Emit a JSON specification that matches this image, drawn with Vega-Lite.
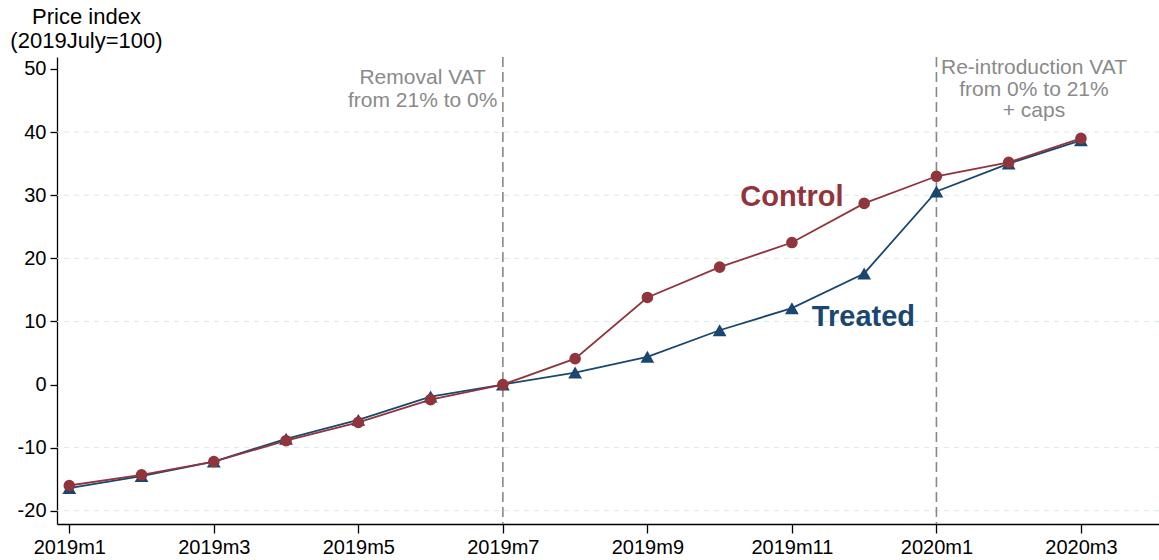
{
  "$schema": "https://vega.github.io/schema/vega-lite/v6.json",
  "autosize": "none",
  "width": 1102,
  "height": 467,
  "padding": {"left": 57, "top": 57, "right": 0, "bottom": 36},
  "background": "white",
  "config": {
    "view": {"stroke": null},
    "font": "Liberation Sans",
    "axis": {"labelFont": "Liberation Sans", "titleFont": "Liberation Sans"}
  },
  "datasets": {
    "series": [
      {"t": 0, "month": "2019m1", "group": "Treated", "value": -16.4},
      {"t": 1, "month": "2019m2", "group": "Treated", "value": -14.5},
      {"t": 2, "month": "2019m3", "group": "Treated", "value": -12.2},
      {"t": 3, "month": "2019m4", "group": "Treated", "value": -8.6},
      {"t": 4, "month": "2019m5", "group": "Treated", "value": -5.6},
      {"t": 5, "month": "2019m6", "group": "Treated", "value": -1.9},
      {"t": 6, "month": "2019m7", "group": "Treated", "value": 0},
      {"t": 7, "month": "2019m8", "group": "Treated", "value": 1.9},
      {"t": 8, "month": "2019m9", "group": "Treated", "value": 4.4},
      {"t": 9, "month": "2019m10", "group": "Treated", "value": 8.6},
      {"t": 10, "month": "2019m11", "group": "Treated", "value": 12.1},
      {"t": 11, "month": "2019m12", "group": "Treated", "value": 17.6},
      {"t": 12, "month": "2020m1", "group": "Treated", "value": 30.6},
      {"t": 13, "month": "2020m2", "group": "Treated", "value": 35.0},
      {"t": 14, "month": "2020m3", "group": "Treated", "value": 38.7},
      {"t": 0, "month": "2019m1", "group": "Control", "value": -16.0},
      {"t": 1, "month": "2019m2", "group": "Control", "value": -14.3},
      {"t": 2, "month": "2019m3", "group": "Control", "value": -12.2},
      {"t": 3, "month": "2019m4", "group": "Control", "value": -8.9},
      {"t": 4, "month": "2019m5", "group": "Control", "value": -6.0},
      {"t": 5, "month": "2019m6", "group": "Control", "value": -2.4},
      {"t": 6, "month": "2019m7", "group": "Control", "value": 0},
      {"t": 7, "month": "2019m8", "group": "Control", "value": 4.1},
      {"t": 8, "month": "2019m9", "group": "Control", "value": 13.8},
      {"t": 9, "month": "2019m10", "group": "Control", "value": 18.6},
      {"t": 10, "month": "2019m11", "group": "Control", "value": 22.5},
      {"t": 11, "month": "2019m12", "group": "Control", "value": 28.7},
      {"t": 12, "month": "2020m1", "group": "Control", "value": 33.0},
      {"t": 13, "month": "2020m2", "group": "Control", "value": 35.2},
      {"t": 14, "month": "2020m3", "group": "Control", "value": 39.0}
    ],
    "grid": [{"v": -20}, {"v": -10}, {"v": 10}, {"v": 20}, {"v": 30}, {"v": 40}],
    "events": [{"t": 6}, {"t": 12}],
    "notes": [
      {"t": 4.89, "y": 48.5, "label": "Removal VAT"},
      {"t": 4.89, "y": 45.0, "label": "from 21% to 0%"},
      {"t": 13.35, "y": 50.1, "label": "Re-introduction VAT"},
      {"t": 13.35, "y": 46.7, "label": "from 0% to 21%"},
      {"t": 13.35, "y": 43.4, "label": "+ caps"}
    ],
    "tags": [
      {"t": 10.0, "y": 29.7, "group": "Control"},
      {"t": 10.99, "y": 10.7, "group": "Treated"}
    ]
  },
  "layer": [
    {
      "data": {"name": "grid"},
      "mark": {"type": "rule", "color": "#d9e8ec", "strokeWidth": 1, "strokeDash": [5, 5]},
      "encoding": {
        "y": {"field": "v", "type": "quantitative", "scale": {"domain": [-22.1, 51.9], "nice": false, "zero": false},
          "axis": {
            "values": [-20, -10, 0, 10, 20, 30, 40, 50],
            "labelExpr": "'' + datum.value",
            "grid": false,
            "labelFontSize": 20,
            "labelColor": "black",
            "labelPadding": 4,
            "tickSize": 7,
            "tickColor": "black",
            "domainColor": "black",
            "domainWidth": 1.3,
            "tickWidth": 1.3,
            "title": ["Price index", "(2019July=100)"],
            "titleFontSize": 22,
            "titleFontWeight": "normal",
            "titleColor": "black",
            "titleAngle": 0,
            "titleAlign": "center",
            "titleBaseline": "alphabetic",
            "titleX": 29,
            "titleY": -34,
            "titleLineHeight": 24
          }
        }
      }
    },
    {
      "data": {"name": "events"},
      "mark": {"type": "rule", "color": "#888888", "strokeWidth": 1.6, "strokeDash": [10, 5]},
      "encoding": {
        "x": {"field": "t", "type": "quantitative"}
      }
    },
    {
      "mark": {"type": "rule", "color": "#888888", "strokeWidth": 1.6, "strokeDash": [10, 5]},
      "encoding": {"y": {"datum": 0}}
    },
    {
      "data": {"name": "series"},
      "mark": {"type": "line", "strokeWidth": 1.8},
      "encoding": {
        "x": {"field": "t", "type": "quantitative",
          "scale": {"domain": [-0.17, 15.08], "nice": false, "zero": false},
          "axis": {
            "values": [0, 2, 4, 6, 8, 10, 12, 14],
            "labelExpr": "datum.value < 12 ? '2019m' + (datum.value + 1) : '2020m' + (datum.value - 11)",
            "grid": false,
            "title": null,
            "labelFontSize": 20,
            "labelColor": "black",
            "labelPadding": 4,
            "tickSize": 9,
            "tickColor": "black",
            "domainColor": "black",
            "domainWidth": 1.3,
            "tickWidth": 1.3,
            "labelFlush": false
          }
        },
        "y": {"field": "value", "type": "quantitative"},
        "color": {"field": "group", "type": "nominal",
          "scale": {"domain": ["Treated", "Control"], "range": ["#1a476f", "#90353b"]}, "legend": null},
        "order": {"field": "t"}
      }
    },
    {
      "data": {"name": "series"},
      "mark": {"type": "point", "filled": true, "opacity": 1},
      "encoding": {
        "x": {"field": "t", "type": "quantitative"},
        "y": {"field": "value", "type": "quantitative"},
        "color": {"field": "group", "type": "nominal", "legend": null},
        "shape": {"field": "group", "type": "nominal",
          "scale": {"domain": ["Treated", "Control"], "range": ["triangle-up", "circle"]}, "legend": null},
        "size": {"field": "group", "type": "nominal",
          "scale": {"domain": ["Treated", "Control"], "range": [190, 135]}, "legend": null}
      }
    },
    {
      "data": {"name": "notes"},
      "mark": {"type": "text", "fontSize": 21, "color": "#8a8a8a", "align": "center", "baseline": "middle"},
      "encoding": {
        "x": {"field": "t", "type": "quantitative"},
        "y": {"field": "y", "type": "quantitative"},
        "text": {"field": "label"}
      }
    },
    {
      "data": {"name": "tags"},
      "mark": {"type": "text", "fontSize": 29, "fontWeight": "bold", "align": "center", "baseline": "middle"},
      "encoding": {
        "x": {"field": "t", "type": "quantitative"},
        "y": {"field": "y", "type": "quantitative"},
        "text": {"field": "group"},
        "color": {"field": "group", "type": "nominal", "legend": null}
      }
    }
  ]
}
